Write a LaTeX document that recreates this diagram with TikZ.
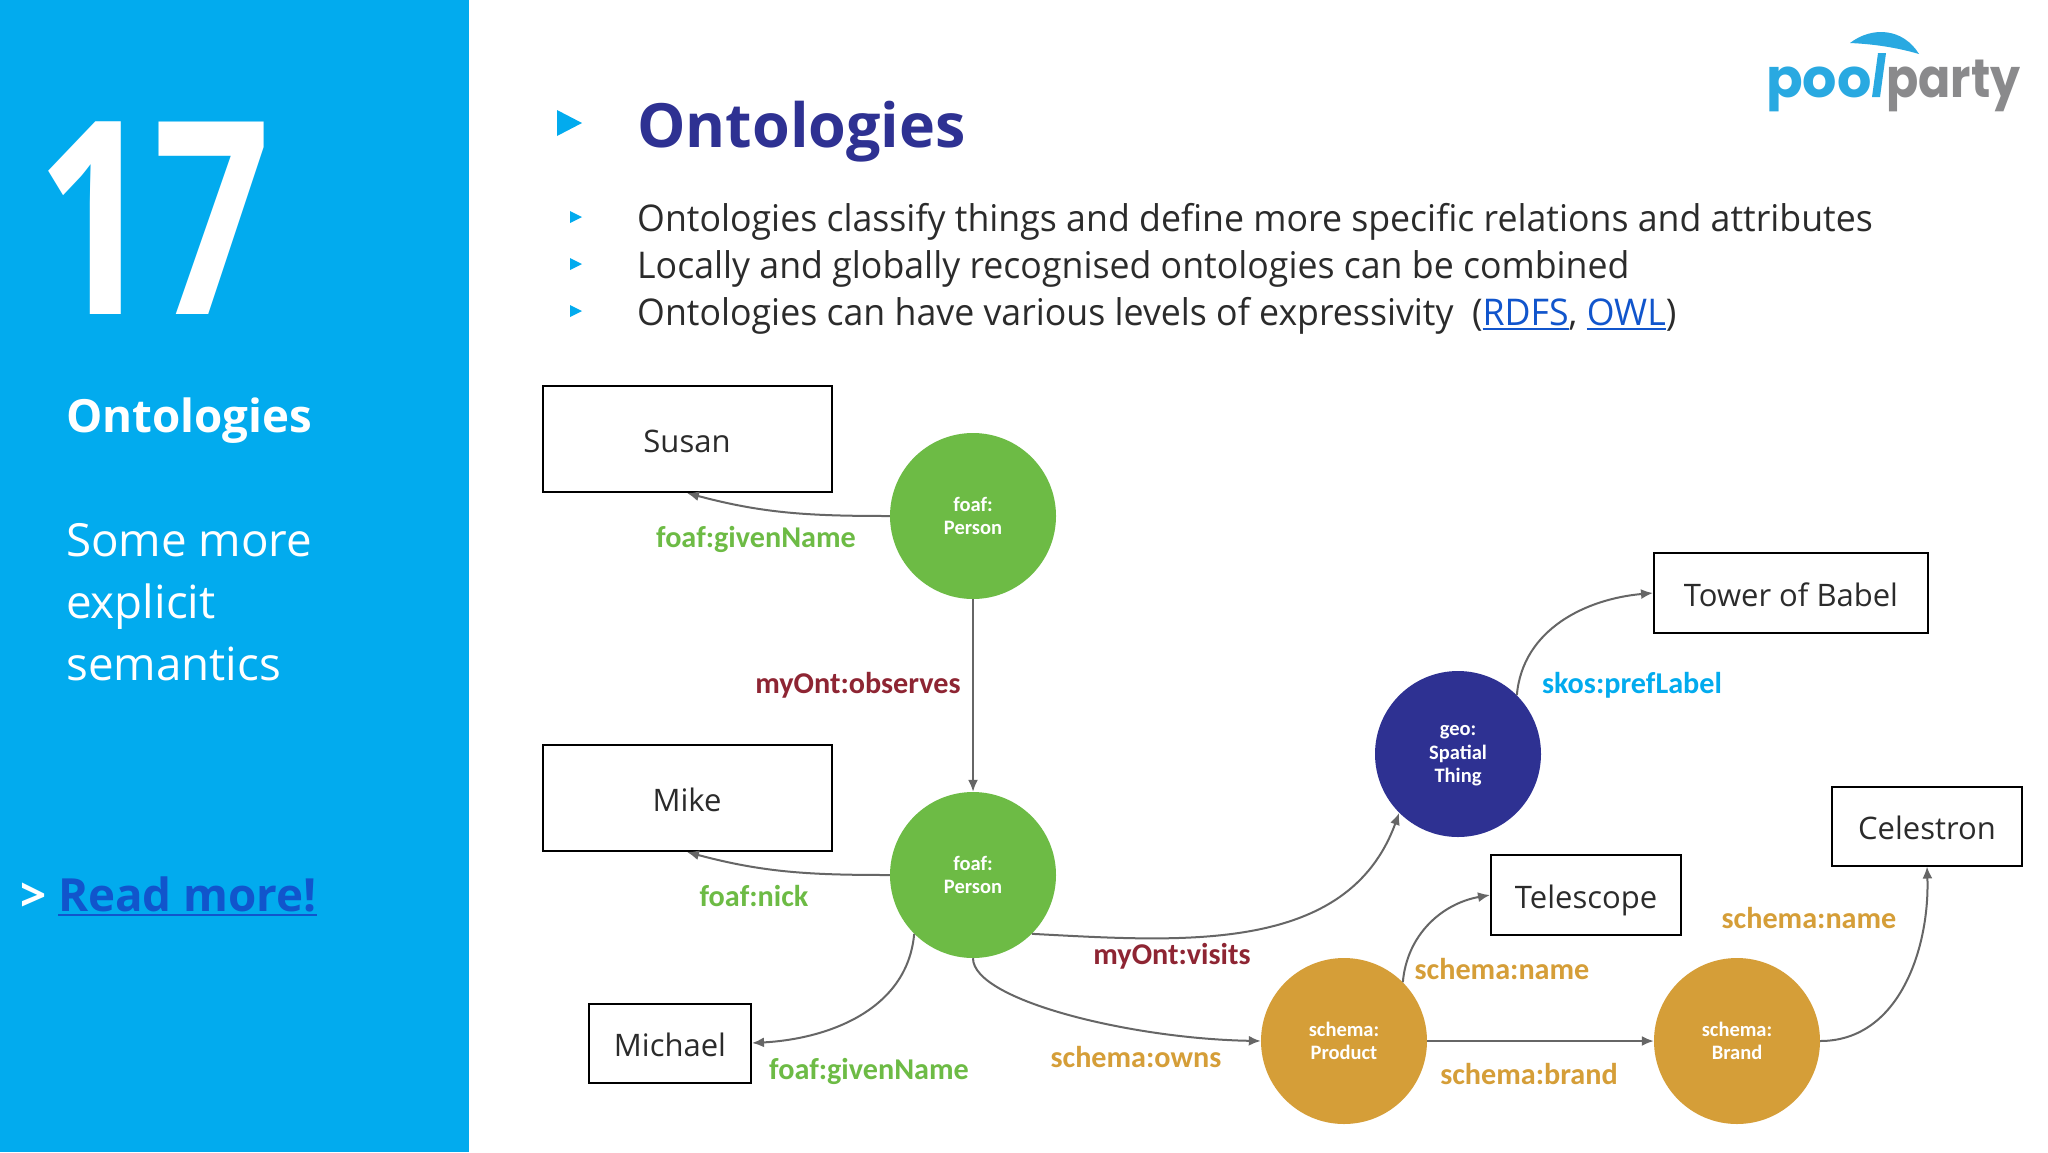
\documentclass[tikz,border=0pt]{standalone}
\usepackage{xcolor}
\usepackage{fontspec}
\setmainfont{Open Sans}
\newfontfamily\labelfont{Carlito}
\newfontfamily\logofont[FakeStretch=0.88]{Poppins}
\newfontfamily\poofont{Poppins}
\newfontfamily\numberfont[FakeStretch=0.76]{Open Sans}
\newfontfamily\bodyfont[FakeStretch=0.97]{Open Sans}
\usetikzlibrary{arrows.meta}
\definecolor{panelblue}{HTML}{02ABEE}
\definecolor{linkblue}{HTML}{1155CC}
\definecolor{titleblue}{HTML}{2E3192}
\definecolor{bodygray}{HTML}{2B2B2B}
\definecolor{foafgreen}{HTML}{6DBB45}
\definecolor{ontred}{HTML}{8E2533}
\definecolor{schemagold}{HTML}{D59E38}
\definecolor{linegray}{HTML}{666666}
\definecolor{logogray}{HTML}{8A8A8C}
\definecolor{logoblue}{HTML}{29A9E1}
\newcommand{\linktext}[1]{\textcolor{linkblue}{\setbox0\hbox{#1}\rlap{\rule[-5pt]{\wd0}{2.5pt}}\box0}}
\begin{document}
\begin{tikzpicture}[
    x=1pt, y=-1pt,
    literal/.style={rectangle, draw=black, line width=2pt, fill=white, text=bodygray, font=\fontsize{31}{38}\selectfont, inner sep=0pt, text height=26pt, text depth=0pt},
    class/.style={circle, minimum size=166pt, inner sep=0pt, align=center, text=white, font=\labelfont\bfseries\fontsize{20.5}{23.5}\selectfont, text depth=-3pt},
    foaf/.style={class, fill=foafgreen},
    schema/.style={class, fill=schemagold},
    geo/.style={class, fill=titleblue},
    arrow/.style={-{Latex[length=12pt,width=10pt]}, line width=2pt, color=linegray},
    prop/.style={inner sep=0pt, font=\labelfont\bfseries\fontsize{30.2}{34}\selectfont},
    sidetext/.style={anchor=base west, inner sep=0pt, text=white, font=\fontsize{45.7}{54}\selectfont},
    bullet/.style={anchor=base west, inner sep=0pt, text=bodygray, font=\bodyfont\fontsize{36.8}{44}\selectfont}
]
    \useasboundingbox (0,0) rectangle (2048,1152);
    \fill[white] (0,0) rectangle (2048,1152);
    \fill[panelblue] (0,0) rectangle (469,1152);

    % side panel
    \node[anchor=base west, inner sep=0pt, text=white, font=\numberfont\bfseries\fontsize{270}{270}\selectfont] (number) at (36,314) {17};
    \node[sidetext, font=\bfseries\fontsize{45.7}{54}\selectfont] (topic) at (66,432) {Ontologies};
    \node[sidetext] (some) at (66,556) {Some more};
    \node[sidetext] (explicit) at (66,618) {explicit};
    \node[sidetext] (semantics) at (66,680) {semantics};
    \node[sidetext, font=\bfseries\fontsize{45.7}{54}\selectfont] (more) at (20,911) {> \linktext{Read more!}};

    % heading
    \fill[panelblue] (557,110) -- (582,123) -- (557,136) -- cycle;
    \node[anchor=base west, inner sep=0pt, text=titleblue, font=\bfseries\fontsize{61}{70}\selectfont] (title) at (637,147) {Ontologies};
    \foreach \y in {217,264,311}
        \fill[panelblue] (570,\y-6) -- (582,\y) -- (570,\y+6) -- cycle;
    \node[bullet] (line1) at (637,231) {Ontologies classify things and define more specific relations and attributes};
    \node[bullet] (line2) at (637,278) {Locally and globally recognised ontologies can be combined};
    \node[bullet] (line3) at (637,325) {Ontologies can have various levels of expressivity~ (\linktext{RDFS}, \linktext{OWL})};

    % logo
    \fill[logoblue] (1850,43) .. controls (1872,26) and (1903,28) .. (1919,54) .. controls (1895,47) and (1872,44) .. (1850,43) -- cycle;
    \fill[logoblue] (1878,53) -- (1886,53) -- (1880,97) -- (1872,97) -- cycle;
    \node[anchor=base west, inner sep=0pt, text=logoblue, font=\poofont\bfseries\fontsize{54}{60}\selectfont] (pool) at (1766,97) {poo};
    \node[anchor=base west, inner sep=0pt, text=logogray, font=\logofont\bfseries\fontsize{54}{60}\selectfont] (party) at (1886,97) {party};

    % literals
    \node[literal, minimum width=289pt, minimum height=106pt] (susan) at (687,439) {Susan};
    \node[literal, minimum width=289pt, minimum height=106pt] (mike) at (687,798) {Mike};
    \node[literal, minimum width=162pt, minimum height=79pt] (michael) at (670,1043) {Michael};
    \node[literal, minimum width=274pt, minimum height=80pt] (tower) at (1791,593) {Tower of Babel};
    \node[literal, minimum width=190pt, minimum height=80pt] (telescope) at (1586,895) {Telescope};
    \node[literal, minimum width=190pt, minimum height=79pt] (celestron) at (1927,826) {Celestron};

    % classes
    \node[foaf] (person1) at (973,516) {foaf:\\Person};
    \node[foaf] (person2) at (973,875) {foaf:\\Person};
    \node[geo] (thing) at (1458,754) {geo:\\Spatial\\Thing};
    \node[schema] (product) at (1344,1041) {schema:\\Product};
    \node[schema] (brand) at (1737,1041) {schema:\\Brand};

    \draw[arrow] (person1.west) to[out=180, in=-15] (susan.south);
    \draw[arrow] (person1.south) -- (person2.north);
    \draw[arrow] (person2.west) to[out=180, in=-15] (mike.south);
    \draw[arrow] (person2.south west) to[out=-95, in=3] (michael.east);
    \draw[arrow] (person2.south east) to[out=-3, in=-110] (thing.south west);
    \draw[arrow] (person2.south) to[out=-90, in=179, out distance=42pt, in distance=130pt] (product.west);
    \draw[arrow] (product.north east) to[out=85, in=190] (telescope.west);
    \draw[arrow] (product.east) -- (brand.west);
    \draw[arrow] (brand.east) to[out=0, in=-88] (celestron.south);
    \draw[arrow] (thing.north east) to[out=85, in=185] (tower.west);

    % property labels
    \node[prop, text=foafgreen] (given1) at (756,539) {foaf:givenName};
    \node[prop, text=ontred] (observes) at (858,685) {myOnt:observes};
    \node[prop, text=foafgreen] (nick) at (754,896) {foaf:nick};
    \node[prop, text=foafgreen] (given2) at (869,1071) {foaf:givenName};
    \node[prop, text=ontred] (visits) at (1172,956) {myOnt:visits};
    \node[prop, text=schemagold] (owns) at (1136,1057) {schema:owns};
    \node[prop, text=schemagold] (name1) at (1502,969) {schema:name};
    \node[prop, text=schemagold] (brandlabel) at (1529,1074) {schema:brand};
    \node[prop, text=panelblue] (preflabel) at (1632,685) {skos:prefLabel};
    \node[prop, text=schemagold] (name2) at (1809,918) {schema:name};
\end{tikzpicture}
\end{document}
